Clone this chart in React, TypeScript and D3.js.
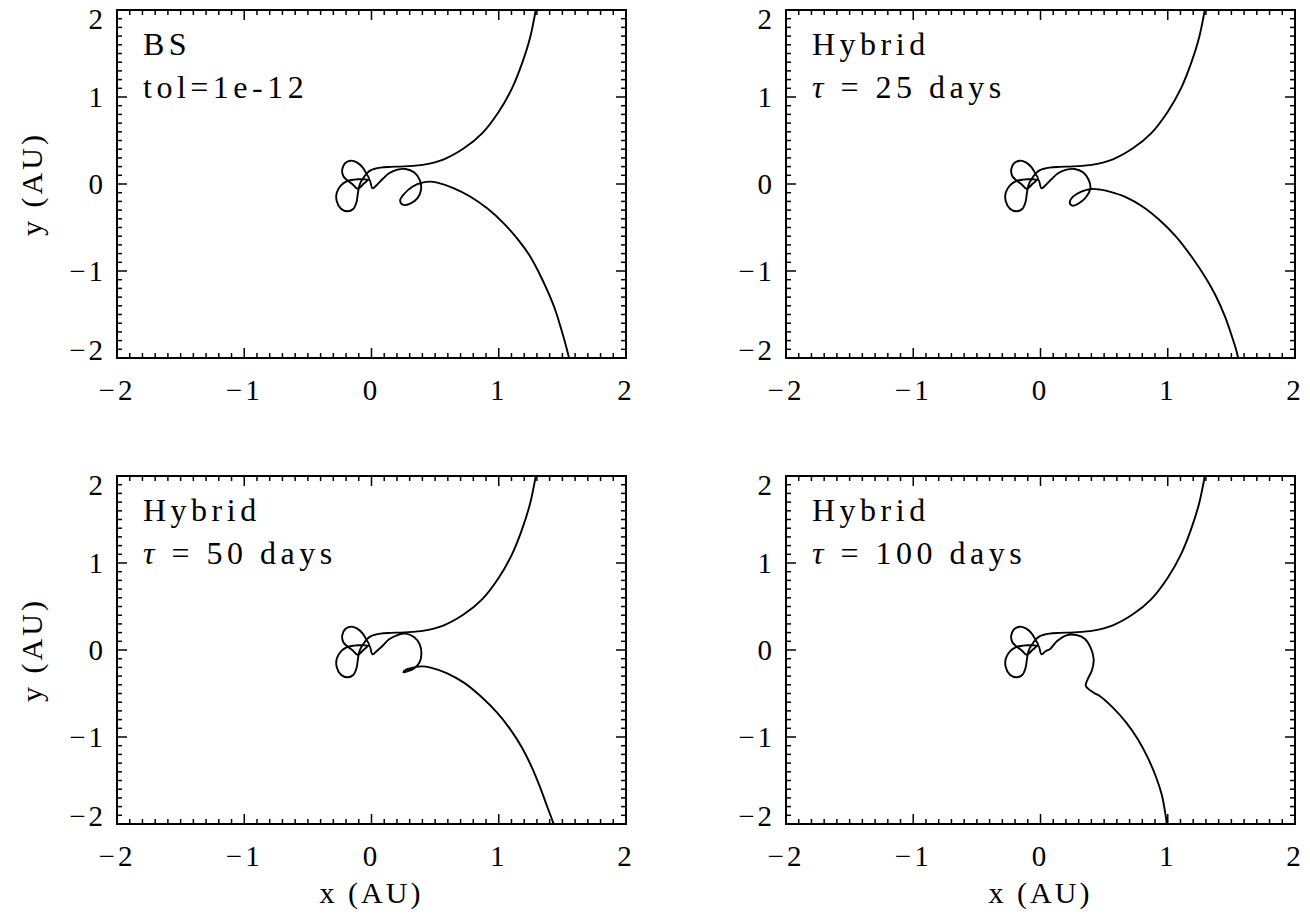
import React from "react";
import * as d3 from "d3";

type Pt = [number, number];

// tick values (AU)
const majorTicks = [-2, -1, 0, 1, 2];
const minorTicks = d3.range(-20, 21).filter((i) => i % 10 !== 0).map((i) => i / 10);

// incoming branch, identical in all four runs
const inbound: Pt[] = [
  [1.303, 2.1], [1.248, 1.693], [1.183, 1.387], [1.104, 1.1], [1.0, 0.831],
  [0.869, 0.582], [0.726, 0.41], [0.569, 0.284], [0.413, 0.222], [0.256, 0.203],
  [0.15, 0.197], [0.07, 0.188], [0.02, 0.172],
];

// the tangle of loops near the origin
const loops: Pt[] = [
  [0.0, 0.162], [-0.037, 0.123], [-0.068, 0.061], [-0.094, -0.011], [-0.107, -0.107],
  [-0.117, -0.203], [-0.144, -0.287], [-0.188, -0.314], [-0.24, -0.284], [-0.274, -0.192],
  [-0.272, -0.096], [-0.24, -0.015], [-0.196, 0.031], [-0.136, 0.05], [-0.07, 0.057],
  [-0.018, 0.054], [-0.039, 0.115], [-0.07, 0.192], [-0.115, 0.249], [-0.162, 0.268],
  [-0.206, 0.241], [-0.23, 0.169], [-0.222, 0.092], [-0.193, 0.046], [-0.149, -0.004],
  [-0.11, -0.054], [-0.057, 0.008], [-0.018, 0.05], [0.008, -0.05], [0.042, -0.011],
];

// outgoing part for each run
const outBS: Pt[] = [
  [0.086, 0.054], [0.138, 0.123], [0.204, 0.165], [0.269, 0.172], [0.334, 0.134],
  [0.379, 0.046], [0.389, -0.069], [0.36, -0.165], [0.308, -0.222], [0.251, -0.241],
  [0.225, -0.192], [0.256, -0.115], [0.321, -0.031], [0.399, 0.015], [0.46, 0.027],
  [0.517, 0.015], [0.648, -0.05], [0.778, -0.146], [0.909, -0.28], [1.039, -0.452],
  [1.144, -0.625], [1.248, -0.835], [1.321, -1.034], [1.386, -1.238], [1.444, -1.448],
  [1.493, -1.678], [1.53, -1.87], [1.556, -2.023], [1.565, -2.1],
];
const out25: Pt[] = [
  [0.086, 0.054], [0.138, 0.123], [0.204, 0.165], [0.269, 0.172], [0.334, 0.134],
  [0.379, 0.046], [0.392, -0.05], [0.36, -0.146], [0.308, -0.215], [0.251, -0.249],
  [0.23, -0.215], [0.256, -0.146], [0.321, -0.088], [0.399, -0.057], [0.47, -0.065],
  [0.543, -0.088], [0.674, -0.153], [0.804, -0.261], [0.935, -0.414], [1.065, -0.605],
  [1.196, -0.854], [1.3, -1.084], [1.379, -1.29], [1.45, -1.525], [1.505, -1.755],
  [1.538, -1.908], [1.556, -2.02], [1.565, -2.1],
];
const out50: Pt[] = [
  [0.086, 0.046], [0.138, 0.123], [0.204, 0.172], [0.269, 0.188], [0.334, 0.149],
  [0.379, 0.065], [0.392, -0.05], [0.376, -0.146], [0.334, -0.211], [0.282, -0.245],
  [0.251, -0.257], [0.272, -0.226], [0.334, -0.199], [0.399, -0.188], [0.465, -0.203],
  [0.595, -0.268], [0.726, -0.375], [0.856, -0.529], [0.987, -0.72], [1.091, -0.912],
  [1.183, -1.123], [1.261, -1.352], [1.326, -1.582], [1.379, -1.793], [1.418, -1.946],
  [1.436, -2.023], [1.445, -2.1],
];
const out100: Pt[] = [
  [0.073, 0.008], [0.131, 0.103], [0.204, 0.169], [0.282, 0.172], [0.347, 0.13],
  [0.394, 0.027], [0.418, -0.107], [0.405, -0.23], [0.373, -0.33], [0.355, -0.406],
  [0.373, -0.444], [0.426, -0.498], [0.465, -0.529], [0.569, -0.663], [0.674, -0.835],
  [0.765, -1.027], [0.843, -1.238], [0.905, -1.448], [0.952, -1.659], [0.98, -1.87],
  [0.992, -2.004], [0.995, -2.1],
];

const labelTop = ["BS", "Hybrid", "Hybrid", "Hybrid"];
const labelBottom = ["tol=1e-12", "25 days", "50 days", "100 days"];

const W = 509;
const H = 348;
const FONT = "'Liberation Serif', 'Times New Roman', serif";

const fmt = (v: number) => (v < 0 ? "\u2212" + Math.abs(v) : String(v));

function Panel({ idx, left, top, pts, xTitle, yTitle }: {
  idx: number; left: number; top: number; pts: Pt[]; xTitle: boolean; yTitle: boolean;
}) {
  const x = d3.scaleLinear().domain([-2, 2]).range([0, W]);
  const y = d3.scaleLinear().domain([-2, 2]).range([H, 0]);
  const line = d3.line<Pt>().x((d) => x(d[0])).y((d) => y(d[1])).curve(d3.curveCatmullRom.alpha(0.5));
  const clip = `clip${idx}`;
  const tick = (v: number, len: number) => (
    <g key={`t${v}`}>
      <line x1={x(v)} x2={x(v)} y1={H} y2={H - len} />
      <line x1={x(v)} x2={x(v)} y1={0} y2={len} />
      <line y1={y(v)} y2={y(v)} x1={0} x2={len} />
      <line y1={y(v)} y2={y(v)} x1={W} x2={W - len} />
    </g>
  );
  // end labels of the y axis sit a little inside, as in the original plot
  const yShift = (v: number) => (v === 2 ? 9 : v === -2 ? -8 : 0);
  return (
    <g transform={`translate(${left},${top})`}>
      <defs>
        <clipPath id={clip}>
          <rect x={0} y={0} width={W} height={H} />
        </clipPath>
      </defs>
      <path d={line(pts) || ""} fill="none" stroke="#000" strokeWidth={1.9} clipPath={`url(#${clip})`} strokeLinejoin="round" />
      <g stroke="#000" strokeWidth={1.5}>
        {minorTicks.map((v) => tick(v, 5))}
        {majorTicks.map((v) => tick(v, 10))}
      </g>
      <rect x={0} y={0} width={W} height={H} fill="none" stroke="#000" strokeWidth={2} />
      <g fontFamily={FONT} fontSize={29} letterSpacing={3}>
        {majorTicks.map((v) => (
          <text key={`xl${v}`} x={x(v)} y={H + 42} textAnchor="middle">{fmt(v)}</text>
        ))}
        {majorTicks.map((v) => (
          <text key={`yl${v}`} x={-11} y={y(v) + 10 + yShift(v)} textAnchor="end">{fmt(v)}</text>
        ))}
      </g>
      <g fontFamily={FONT} fontSize={32} letterSpacing={4.5}>
        <text x={26} y={45}>{labelTop[idx]}</text>
        <text x={26} y={88}>
          {idx === 0 ? labelBottom[idx] : (
            <>
              <tspan fontStyle="italic">{"\u03c4"}</tspan>
              <tspan>{" = " + labelBottom[idx]}</tspan>
            </>
          )}
        </text>
      </g>
      {xTitle && (
        <text x={W / 2} y={H + 79} textAnchor="middle" fontFamily={FONT} fontSize={30} letterSpacing={3}>x (AU)</text>
      )}
      {yTitle && (
        <text transform={`translate(-75,${H / 2}) rotate(-90)`} textAnchor="middle" fontFamily={FONT} fontSize={30} letterSpacing={3}>y (AU)</text>
      )}
    </g>
  );
}

export default function App() {
  const traj = (out: Pt[]) => [...inbound, ...loops, ...out];
  return (
    <svg width={1310} height={915} style={{ position: "absolute", left: 0, top: 0, background: "#fff" }}>
      <Panel idx={0} left={117} top={10} pts={traj(outBS)} xTitle={false} yTitle={true} />
      <Panel idx={1} left={786} top={10} pts={traj(out25)} xTitle={false} yTitle={false} />
      <Panel idx={2} left={117} top={476} pts={traj(out50)} xTitle={true} yTitle={true} />
      <Panel idx={3} left={786} top={476} pts={traj(out100)} xTitle={true} yTitle={false} />
    </svg>
  );
}
